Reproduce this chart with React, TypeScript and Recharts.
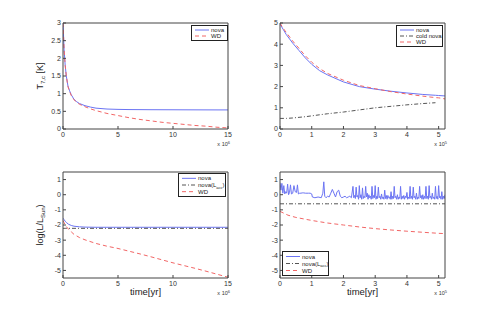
import React from "react";
import { LineChart, Line, XAxis, YAxis, Legend } from "recharts";

const FONT = "'Liberation Sans', Arial, Helvetica, sans-serif";
const BLUE = "#6b74f3";
const RED = "#f26666";
const DARK = "#444";

// top left: central temperature vs time
const t1 = [0, 0.1, 0.2, 0.3, 0.45, 0.6, 0.75, 1, 1.25, 1.5, 2, 2.5, 3, 4, 5, 6, 7, 8, 9, 10, 11, 12, 13, 14, 15];
const nova1 = [3.0, 2.25, 1.8, 1.5, 1.22, 1.08, 0.97, 0.84, 0.77, 0.72, 0.66, 0.62, 0.59, 0.565, 0.555, 0.55, 0.548, 0.546, 0.545, 0.544, 0.543, 0.542, 0.541, 0.54, 0.54];
const wd1 = [3.0, 2.25, 1.8, 1.5, 1.2, 1.06, 0.95, 0.83, 0.75, 0.7, 0.63, 0.57, 0.52, 0.44, 0.38, 0.32, 0.27, 0.23, 0.19, 0.16, 0.13, 0.1, 0.08, 0.05, 0.03];

// top right
const t2 = [0, 0.1, 0.2, 0.4, 0.6, 0.8, 1, 1.25, 1.5, 2, 2.5, 3, 3.5, 4, 4.5, 4.9, 5, 5.2];
const nova2 = [4.95, 4.7, 4.45, 4.05, 3.7, 3.35, 3.05, 2.75, 2.55, 2.22, 2.0, 1.88, 1.78, 1.7, 1.63, 1.59, 1.58, 1.56];
const cold2 = [0.5, 0.5, 0.5, 0.52, 0.55, 0.58, 0.62, 0.67, 0.72, 0.8, 0.9, 1.0, 1.07, 1.14, 1.2, 1.24, null, null];
const wd2 = [5.0, 4.75, 4.55, 4.15, 3.8, 3.45, 3.15, 2.85, 2.62, 2.3, 2.05, 1.9, 1.76, 1.65, 1.55, 1.48, 1.47, 1.42];

// bottom left: luminosity
const t3 = [0, 0.1, 0.2, 0.3, 0.5, 0.75, 1, 1.5, 2, 3, 4, 5, 6, 7, 8, 9, 10, 11, 12, 13, 14, 15];
const nova3 = [-1.55, -1.65, -1.75, -1.83, -1.95, -2.03, -2.08, -2.12, -2.14, -2.15, -2.15, -2.15, -2.15, -2.15, -2.15, -2.15, -2.15, -2.15, -2.15, -2.15, -2.15, -2.15];
const lacc3 = [-2.22, -2.22, -2.22, -2.22, -2.22, -2.22, -2.22, -2.22, -2.22, -2.22, -2.22, -2.22, -2.22, -2.22, -2.22, -2.22, -2.22, -2.22, -2.22, -2.22, -2.22, -2.22];
const wd3 = [-1.7, -1.85, -2.0, -2.1, -2.28, -2.45, -2.62, -2.83, -2.98, -3.22, -3.4, -3.55, -3.73, -3.91, -4.1, -4.3, -4.5, -4.68, -4.86, -5.05, -5.25, -5.45];

// bottom right: nova flashes (early part, then the dense flashing stretch)
const t4n = [
  0, 0.03, 0.06, 0.09, 0.12, 0.15, 0.18, 0.21, 0.24, 0.27, 0.3, 0.33, 0.36, 0.4, 0.44, 0.48, 0.52, 0.55, 0.58, 0.62, 0.66, 0.7, 0.75, 0.8, 0.85, 0.9, 0.95, 1.0,
  1.02, 1.1, 1.2, 1.3, 1.35, 1.38, 1.41, 1.45, 1.5, 1.55, 1.6, 1.65, 1.7, 1.75, 1.8, 1.85, 1.9, 1.95, 2.0, 2.05, 2.1, 2.15, 2.2, 2.25,
  2.3, 2.325, 2.35, 2.375, 2.4, 2.425, 2.45, 2.475,
  2.5, 2.525, 2.55, 2.575, 2.6, 2.625, 2.65, 2.675,
  2.7, 2.725, 2.75, 2.775, 2.8, 2.825, 2.85, 2.875,
  2.9, 2.925, 2.95, 2.975, 3.0, 3.025, 3.05, 3.075,
  3.1, 3.125, 3.15, 3.175, 3.2, 3.225, 3.25, 3.275,
  3.3, 3.325, 3.35, 3.375, 3.4, 3.425, 3.45, 3.475,
  3.5, 3.525, 3.55, 3.575, 3.6, 3.625, 3.65, 3.675,
  3.7, 3.725, 3.75, 3.775, 3.8, 3.825, 3.85, 3.875,
  3.9, 3.925, 3.95, 3.975, 4.0, 4.025, 4.05, 4.075,
  4.1, 4.125, 4.15, 4.175, 4.2, 4.225, 4.25, 4.275,
  4.3, 4.325, 4.35, 4.375, 4.4, 4.425, 4.45, 4.475,
  4.5, 4.525, 4.55, 4.575, 4.6, 4.625, 4.65, 4.675,
  4.7, 4.725, 4.75, 4.775, 4.8, 4.825, 4.85, 4.875,
  4.9, 4.925, 4.95, 4.975, 5.0, 5.025, 5.05, 5.075,
  5.1, 5.125, 5.15, 5.175, 5.2,
];
const nova4 = [
  0.8, 0.3, 0.75, 0.1, 0.6, 0.05, 0.2, 0.1, 0.7, 0.0, 0.15, 0.65, 0.05, 0.1, 0.6, 0.2, 0.15, 0.65, 0.05, 0.1, 0.1, 0.12, 0.12, 0.1, 0.1, 0.1, 0.1, 0.05,
  -0.15, -0.2, -0.15, -0.2, 0.1, 0.85, -0.1, -0.2, -0.1, -0.15, 0.1, 0.35, 0.1, -0.15, 0.2, 0.3, -0.1, -0.2, -0.15, -0.1, -0.2, -0.15, -0.1, -0.2,
  0.55, -0.2, -0.05, -0.25, 0.5, -0.15, -0.05, -0.3,
  0.6, -0.2, 0.0, -0.3, 0.45, -0.25, -0.1, -0.2,
  0.55, -0.15, 0.1, -0.3, 0.0, -0.2, -0.1, -0.3,
  0.55, -0.25, -0.05, -0.2, 0.6, -0.3, -0.1, -0.25,
  0.5, -0.2, -0.1, -0.3, 0.05, -0.25, -0.15, -0.3,
  0.3, -0.25, -0.05, -0.3, -0.05, -0.2, -0.15, -0.3,
  0.2, -0.3, -0.1, -0.25, 0.55, -0.2, -0.1, -0.3,
  0.0, -0.3, -0.15, -0.25, 0.55, -0.3, -0.1, -0.25,
  -0.05, -0.3, -0.1, -0.2, 0.15, -0.3, -0.15, -0.25,
  0.55, -0.25, -0.1, -0.3, 0.5, -0.2, -0.1, -0.3,
  0.1, -0.3, -0.15, -0.25, 0.55, -0.2, -0.05, -0.3,
  0.0, -0.3, -0.1, -0.25, 0.55, -0.25, -0.1, -0.3,
  0.6, -0.2, -0.1, -0.3, 0.1, -0.25, -0.15, -0.3,
  0.55, -0.25, -0.1, -0.3, 0.6, -0.2, -0.1, -0.3,
  0.2, -0.3, -0.1, -0.25, 0.0,
];
const t4 = [0, 0.25, 0.5, 1, 1.5, 2, 2.5, 3, 3.5, 4, 4.5, 5, 5.2];
const lacc4 = [-0.6, -0.6, -0.6, -0.6, -0.6, -0.6, -0.6, -0.6, -0.6, -0.6, -0.6, -0.6, -0.6];
const wd4 = [-1.1, -1.35, -1.5, -1.7, -1.87, -2.0, -2.13, -2.24, -2.33, -2.41, -2.48, -2.55, -2.57];

const ticksX15 = [0, 5, 10, 15];
const ticksX5 = [0, 1, 2, 3, 4, 5];
const ticksT = [0, 0.5, 1, 1.5, 2, 2.5, 3];
const ticksT2 = [0, 1, 2, 3, 4, 5];
const ticksL = [-5, -4, -3, -2, -1, 0, 1];

type Series = { name: React.ReactNode; key: string; xs: number[]; ys: (number | null)[]; color: string; dash?: string };

const rows = (xs: number[], ys: (number | null)[]) => xs.map((x, i) => ({ x, y: ys[i] }));

const PLOT_W = 165;
const PLOT_H = 106;
const TOP = 6;

function LegendBox({ series, w, h }: { series: Series[]; w: number; h: number }) {
  const rowH = (h - 4) / series.length;
  return (
    <svg width={w} height={h} style={{ display: "block" }}>
      <rect x={0.5} y={0.5} width={w - 1} height={h - 1} fill="#fff" stroke="#222" />
      {series.map((s, i) => {
        const cy = 2 + rowH * (i + 0.5);
        return (
          <g key={s.key}>
            <line x1={4} x2={18} y1={cy} y2={cy} stroke={s.color} strokeWidth={1} strokeDasharray={s.dash} />
            <text x={20} y={cy + 2} fontSize={6} fontFamily={FONT} fill="#222">
              {s.name}
            </text>
          </g>
        );
      })}
    </svg>
  );
}

type PanelProps = {
  left: number;
  top: number;
  yW: number;
  xDomain: [number, number];
  xTicks: number[];
  yDomain: [number, number];
  yTicks: number[];
  series: Series[];
  legend: { x: number; y: number; w: number; h: number };
  yLabel?: React.ReactNode;
  xLabel?: string;
  exp: string;
};

function Panel(p: PanelProps) {
  const axH = 27;
  const width = p.yW + PLOT_W + 1 + 5;
  const height = TOP + PLOT_H + axH;
  const tickStyle = { fontSize: 7, fill: "#333", fontFamily: FONT };
  return (
    <div style={{ position: "absolute", left: p.left - p.yW, top: p.top - TOP }}>
      <LineChart width={width} height={height} margin={{ top: TOP - 1, right: 5, left: 0, bottom: 0 }}>
        <XAxis
          type="number"
          dataKey="x"
          domain={p.xDomain}
          ticks={p.xTicks}
          interval={0}
          allowDataOverflow
          height={axH}
          stroke={DARK}
          tickSize={-3}
          tickMargin={6}
          tick={tickStyle}
          label={{
            content: ({ viewBox }: any) => (
              <g>
                {p.xLabel && (
                  <text x={viewBox.x + viewBox.width / 2} y={viewBox.y + 17} textAnchor="middle" fontSize={9.5} fontFamily={FONT} fill="#222">
                    {p.xLabel}
                  </text>
                )}
                <text x={viewBox.x + viewBox.width + 2} y={viewBox.y + 17} textAnchor="end" fontSize={5.5} fontFamily={FONT} fill="#333">
                  x 10<tspan dy={-2.5} fontSize={4}>{p.exp}</tspan>
                </text>
              </g>
            ),
          }}
        />
        <XAxis
          xAxisId="t"
          orientation="top"
          type="number"
          dataKey="x"
          domain={p.xDomain}
          ticks={p.xTicks}
          interval={0}
          height={1}
          stroke={DARK}
          tickSize={-3}
          tickFormatter={() => ""}
        />
        <YAxis
          type="number"
          domain={p.yDomain}
          ticks={p.yTicks}
          interval={0}
          allowDataOverflow
          width={p.yW}
          stroke={DARK}
          tickSize={-3}
          tickMargin={5}
          tick={tickStyle}
          label={
            p.yLabel
              ? {
                  content: ({ viewBox }: any) => {
                    const cx = 20;
                    const cy = viewBox.y + viewBox.height / 2;
                    return (
                      <text x={cx} y={cy} transform={`rotate(-90 ${cx} ${cy})`} textAnchor="middle" fontSize={9} fontFamily={FONT} fill="#222">
                        {p.yLabel}
                      </text>
                    );
                  },
                }
              : undefined
          }
        />
        <YAxis
          yAxisId="r"
          orientation="right"
          type="number"
          domain={p.yDomain}
          ticks={p.yTicks}
          interval={0}
          width={1}
          stroke={DARK}
          tickSize={-3}
          tickFormatter={() => ""}
        />
        {p.series.map((s) => (
          <Line
            key={s.key}
            data={rows(s.xs, s.ys)}
            dataKey="y"
            name={s.key}
            type="linear"
            stroke={s.color}
            strokeWidth={1}
            strokeDasharray={s.dash}
            dot={false}
            connectNulls={false}
            isAnimationActive={false}
          />
        ))}
        <Legend
          layout="vertical"
          align="center"
          verticalAlign="middle"
          wrapperStyle={{ left: p.legend.x, top: p.legend.y, width: p.legend.w, height: p.legend.h }}
          content={() => <LegendBox series={p.series} w={p.legend.w} h={p.legend.h} />}
        />
      </LineChart>
    </div>
  );
}

const DASH_RED = "4 3";
const DASH_DOT = "4 2 1 2";

export default function App() {
  return (
    <div style={{ position: "absolute", left: 0, top: 0, width: 491, height: 313, background: "#fff" }}>
      <Panel
        left={63}
        top={23}
        yW={40}
        xDomain={[0, 15]}
        xTicks={ticksX15}
        yDomain={[0, 3]}
        yTicks={ticksT}
        exp="6"
        legend={{ x: 168, y: 8, w: 37, h: 16 }}
        yLabel={
          <>
            T<tspan dy={2} fontSize={6}>7,c</tspan>
            <tspan dy={-2}> [K]</tspan>
          </>
        }
        series={[
          { key: "nova", name: "nova", xs: t1, ys: nova1, color: BLUE },
          { key: "WD", name: "WD", xs: t1, ys: wd1, color: RED, dash: DASH_RED },
        ]}
      />
      <Panel
        left={280}
        top={23}
        yW={25}
        xDomain={[0, 5.2]}
        xTicks={ticksX5}
        yDomain={[0, 5]}
        yTicks={ticksT2}
        exp="5"
        legend={{ x: 141, y: 8, w: 47, h: 22 }}
        series={[
          { key: "nova", name: "nova", xs: t2, ys: nova2, color: BLUE },
          { key: "cold", name: "cold nova", xs: t2, ys: cold2, color: "#555", dash: DASH_DOT },
          { key: "WD", name: "WD", xs: t2, ys: wd2, color: RED, dash: DASH_RED },
        ]}
      />
      <Panel
        left={63}
        top={172}
        yW={40}
        xDomain={[0, 15]}
        xTicks={ticksX15}
        yDomain={[-5.5, 1.5]}
        yTicks={ticksL}
        exp="6"
        xLabel="time[yr]"
        legend={{ x: 155, y: 7, w: 48, h: 24 }}
        yLabel={
          <>
            log(L/L<tspan dy={2} fontSize={6}>Sun</tspan>
            <tspan dy={-2}>)</tspan>
          </>
        }
        series={[
          { key: "nova", name: "nova", xs: t3, ys: nova3, color: BLUE },
          {
            key: "lacc",
            name: (
              <>
                nova(L<tspan dy={1.5} fontSize={4}>acc</tspan>
                <tspan dy={-1.5}>)</tspan>
              </>
            ),
            xs: t3,
            ys: lacc3,
            color: "#555",
            dash: DASH_DOT,
          },
          { key: "WD", name: "WD", xs: t3, ys: wd3, color: RED, dash: DASH_RED },
        ]}
      />
      <Panel
        left={280}
        top={172}
        yW={25}
        xDomain={[0, 5.2]}
        xTicks={ticksX5}
        yDomain={[-5.5, 1.5]}
        yTicks={ticksL}
        exp="5"
        xLabel="time[yr]"
        legend={{ x: 27, y: 85, w: 47, h: 25 }}
        series={[
          { key: "nova", name: "nova", xs: t4n, ys: nova4, color: BLUE },
          {
            key: "lacc",
            name: (
              <>
                nova(L<tspan dy={1.5} fontSize={4}>acc</tspan>
                <tspan dy={-1.5}>)</tspan>
              </>
            ),
            xs: t4,
            ys: lacc4,
            color: "#555",
            dash: DASH_DOT,
          },
          { key: "WD", name: "WD", xs: t4, ys: wd4, color: RED, dash: DASH_RED },
        ]}
      />
    </div>
  );
}
